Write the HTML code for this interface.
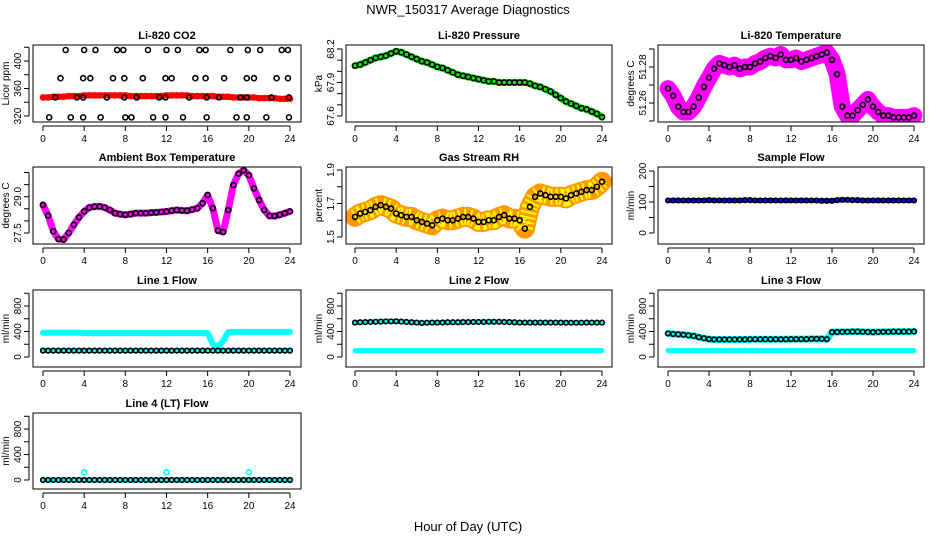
<!DOCTYPE html>
<html><head><meta charset="utf-8"><style>
body{margin:0;background:#fff;}
svg{display:block;font-family:"Liberation Sans",sans-serif;}
</style></head><body>
<svg id="c" width="936" height="540" viewBox="0 0 936 540">
<text x="468" y="14" text-anchor="middle" font-size="13">NWR_150317  Average Diagnostics</text>
<text x="468" y="531" text-anchor="middle" font-size="13">Hour of Day (UTC)</text>
</svg>
<script>
const H=[0,0.5,1,1.5,2,2.5,3,3.5,4,4.5,5,5.5,6,6.5,7,7.5,8,8.5,9,9.5,10,10.5,11,11.5,12,12.5,13,13.5,14,14.5,15,15.5,16,16.5,17,17.5,18,18.5,19,19.5,20,20.5,21,21.5,22,22.5,23,23.5,24];
const xTicks=[0,4,8,12,16,20,24];
// CO2
const co2Band=[347,347,348,348,348,349,349,349,350,350,350,350,350,350,350,350,350,349,349,349,349,349,349,349,350,350,350,350,350,349,349,349,349,349,348,348,348,347,347,347,347,347,346,346,346,346,345,345,345];
const co2PtHours=[2.2,4.0,5.1,7.2,7.8,10.2,12.0,13.1,15.2,15.8,18.2,19.9,21.1,23.2,23.8, 1.7,3.9,4.6,6.8,7.9,9.7,11.9,12.5,14.8,15.8,17.6,19.8,20.5,22.7,23.8, 1.2,3.3,3.9,6.2,7.9,9.1,11.3,11.9,14.2,15.9,17.1,19.2,19.8,22.2,23.9, 0.6,2.7,3.9,5.6,8.0,8.6,10.7,11.9,13.6,15.9,18.8,19.8,21.7,23.9];
const co2PtValues=[416,416,416,416,416,416,416,416,416,416,416,416,416,416,416, 375,375,375,375,375,375,375,375,375,375,375,375,375,375,375, 347,347,347,347,347,347,347,347,347,347,347,347,347,347,347, 318,318,318,318,318,318,318,318,318,318,318,318,318,318];
// Pressure
const presBand=[68.05,68.06,68.08,68.10,68.12,68.13,68.14,68.16,68.18,68.17,68.15,68.13,68.11,68.09,68.08,68.06,68.04,68.03,68.01,67.99,67.97,67.96,67.95,67.94,67.93,67.92,67.91,67.91,67.90,67.90,67.90,67.90,67.90,67.90,67.89,67.87,67.86,67.84,67.82,67.79,67.76,67.73,67.71,67.69,67.67,67.66,67.64,67.62,67.59];
// Li-820 temperature
const tempBand=[51.268,51.264,51.258,51.255,51.255,51.258,51.263,51.269,51.274,51.279,51.282,51.281,51.280,51.281,51.279,51.280,51.280,51.282,51.283,51.285,51.286,51.285,51.287,51.284,51.284,51.285,51.283,51.284,51.285,51.286,51.287,51.288,51.284,51.276,51.258,51.253,51.253,51.256,51.259,51.262,51.258,51.255,51.253,51.253,51.252,51.252,51.252,51.252,51.253];
// Ambient
const ambBand=[28.66,28.22,27.57,27.25,27.23,27.5,27.84,28.15,28.39,28.55,28.59,28.6,28.55,28.45,28.32,28.28,28.25,28.28,28.32,28.32,28.32,28.34,28.35,28.37,28.39,28.42,28.45,28.43,28.42,28.47,28.52,28.73,29.07,28.52,27.6,27.54,28.45,29.48,29.95,30.09,29.89,29.34,28.86,28.45,28.21,28.2,28.25,28.32,28.39];
// RH
const rhBand=[1.62,1.64,1.65,1.66,1.68,1.69,1.68,1.67,1.64,1.63,1.62,1.62,1.60,1.59,1.58,1.57,1.60,1.61,1.60,1.60,1.61,1.62,1.62,1.61,1.59,1.59,1.60,1.60,1.62,1.63,1.61,1.61,1.60,1.55,1.68,1.74,1.76,1.75,1.74,1.74,1.74,1.73,1.75,1.76,1.77,1.78,1.78,1.80,1.83];
// Sample flow
const sampleBand=[105,105,105,105,105,105,105,105,106,105,105,105,105,105,105,106,106,105,105,105,105,105,105,105,105,105,105,105,105,105,104,104,104,106,107,107,106,106,105,105,105,105,105,105,105,105,105,105,105];
// Line 1
const l1Cyan=[380,380,380,380,380,380,380,380,375,375,375,375,375,375,375,375,375,375,375,375,375,375,375,375,375,375,375,375,375,375,375,375,375,200,160,250,390,395,395,395,395,395,395,395,395,395,395,395,395];
const l1Black=[100,100,100,100,100,100,100,100,100,100,100,100,100,100,100,100,100,100,100,100,100,100,100,100,100,100,100,100,100,100,100,100,100,100,100,100,100,100,100,100,100,100,100,100,100,100,100,100,100];
// Line 2
const l2Black=[540,545,548,550,552,555,558,558,560,555,550,545,540,535,538,540,540,542,545,545,545,548,548,550,550,550,552,552,552,550,548,545,540,540,540,540,540,540,540,540,540,538,538,538,538,540,540,540,540];
const l2Cyan=[100,100,100,100,100,100,100,100,100,100,100,100,100,100,100,100,100,100,100,100,100,100,100,100,100,100,100,100,100,100,100,100,100,100,100,100,100,100,100,100,100,100,100,100,100,100,100,100,100];
// Line 3
const l3Black=[370,360,355,350,340,330,310,295,280,275,275,275,275,275,275,275,278,278,278,278,278,278,278,278,280,280,280,280,285,285,285,280,390,392,395,395,398,398,395,392,390,392,395,395,398,398,398,398,400];
const l3Cyan=[100,100,100,100,100,100,100,100,100,100,100,100,100,100,100,100,100,100,100,100,100,100,100,100,100,100,100,100,100,100,100,100,100,100,100,100,100,100,100,100,100,100,100,100,100,100,100,100,100];
// Line 4
const l4Black=[0,0,0,0,0,0,0,0,0,0,0,0,0,0,0,0,0,0,0,0,0,0,0,0,0,0,0,0,0,0,0,0,0,0,0,0,0,0,0,0,0,0,0,0,0,0,0,0,0];
const l4OutHours=[4,12,20];
const l4OutValues=[120,120,120];

const NS="http://www.w3.org/2000/svg";
const svg=document.getElementById('c');
function mk(tag,attrs,parent){const e=document.createElementNS(NS,tag);for(const k in attrs)e.setAttribute(k,attrs[k]);(parent||svg).appendChild(e);return e;}

const cols=[{bl:33,br:301,x0:43,x24:290},{bl:346,br:612,x0:355,x24:602},{bl:658,br:924,x0:668,x24:914}];
const rows=[{t:45,b:122},{t:167,b:244},{t:290,b:367},{t:413,b:489}];

function panel(name,title,ylab,ci,ri,v1,y1,v2,y2,ticks,labels,draw){
  const c=cols[ci],r=rows[ri];
  const g=mk('g',{});
  
  
  const X=h=>c.x0+h*(c.x24-c.x0)/24;
  const Y=v=>y1+(v-v1)*(y2-y1)/(v2-v1);
  const clip=mk('clipPath',{id:'cl'+name},g);
  mk('rect',{x:c.bl,y:r.t,width:c.br-c.bl,height:r.b-r.t},clip);
  const dg=mk('g',{'clip-path':'url(#cl'+name+')'},g);
  draw(dg,X,Y);
  const box=mk('rect',{x:c.bl,y:r.t,width:c.br-c.bl,height:r.b-r.t,fill:'none',stroke:'#000','stroke-width':1},g);
  
  
  const tt=mk('text',{x:(c.bl+c.br)/2,y:r.t-6,'text-anchor':'middle','font-size':11,'font-weight':'bold'},g);
  tt.textContent=title;
  
  
  mk('line',{x1:X(0),x2:X(24),y1:r.b+4,y2:r.b+4,stroke:'#000'},g);
  xTicks.forEach(h=>{
    mk('line',{x1:X(h),x2:X(h),y1:r.b+4,y2:r.b+9,stroke:'#000'},g);
    const t=mk('text',{x:X(h),y:r.b+20,'text-anchor':'middle','font-size':10},g);
    t.textContent=h;
    
    
  });
  const ax=c.bl-4;
  mk('line',{x1:ax,x2:ax,y1:Y(ticks[0]),y2:Y(ticks[ticks.length-1]),stroke:'#000'},g);
  ticks.forEach((v,i)=>{
    mk('line',{x1:ax-5,x2:ax,y1:Y(v),y2:Y(v),stroke:'#000'},g);
    if(labels[i]!==''){
      const t=mk('text',{x:0,y:0,'text-anchor':'middle','font-size':10,transform:`translate(${ax-8},${Y(v)}) rotate(-90)`},g);
      t.textContent=labels[i];
      
      
    }
  });
  const yl=mk('text',{x:0,y:0,'text-anchor':'middle','font-size':10,transform:`translate(${c.bl-24},${(r.t+r.b)/2}) rotate(-90)`},g);
  yl.textContent=ylab;
  
  
}
function band(g,X,Y,hs,vs,color,w,nm){
  const p=mk('polyline',{points:hs.map((h,i)=>X(h)+','+Y(vs[i])).join(' '),fill:'none',stroke:color,'stroke-width':w,'stroke-linejoin':'round','stroke-linecap':'round'},g);
  
  
}
function pts(g,X,Y,hs,vs,color,r,nm){
  hs.forEach((h,i)=>{
    const c=mk('circle',{cx:X(h),cy:Y(vs[i]),r:r,fill:'none',stroke:color,'stroke-width':1.6},g);
    
    
  });
}
const flowT=[0,200,400,600,800,1000],flowL=['0','','400','','800',''];

panel('co2-panel','Li-820 CO2','Licor ppm',0,0,320,116,400,61,[320,340,360,380,400,420],['320','','360','','400',''],(g,X,Y)=>{
  band(g,X,Y,H,co2Band,'#f00',6,'co2-band');pts(g,X,Y,H,co2Band,'#f00',2.5,'co2-point');
  pts(g,X,Y,co2PtHours,co2PtValues,'#000',2.5,'co2-avg-point');});
panel('pressure-panel','Li-820 Pressure','kPa',1,0,67.6,116,68.2,49,[67.6,67.7,67.8,67.9,68.0,68.1,68.2],['67.6','','','67.9','','','68.2'],(g,X,Y)=>{
  band(g,X,Y,H,presBand,'#0e0',7,'pressure-band');pts(g,X,Y,H,presBand,'#000',2.5,'pressure-point');});
panel('temp-panel','Li-820 Temperature','degrees C',2,0,51.26,103,51.28,67,[51.25,51.26,51.27,51.28,51.29],['','51.26','','51.28',''],(g,X,Y)=>{
  band(g,X,Y,H,tempBand,'#f0f',17,'temp-band');pts(g,X,Y,H,tempBand,'#000',2.5,'temp-point');});
panel('ambient-panel','Ambient Box Temperature','degrees C',0,1,27.5,233,29.0,196.7,[27.5,28.0,28.5,29.0,29.5,30.0],['27.5','','','29.0','',''],(g,X,Y)=>{
  band(g,X,Y,H,ambBand,'#f0f',7,'ambient-band');pts(g,X,Y,H,ambBand,'#000',2.5,'ambient-point');});
panel('rh-panel','Gas Stream RH','percent',1,1,1.5,237,1.9,170,[1.5,1.6,1.7,1.8,1.9],['1.5','','1.7','','1.9'],(g,X,Y)=>{
  band(g,X,Y,H,rhBand,'#f90',20,'rh-band');
  const p=mk('polyline',{points:H.map((h,i)=>X(h)+','+Y(rhBand[i])).join(' '),fill:'none',stroke:'#ff0','stroke-width':16,'stroke-dasharray':'2 3','stroke-linejoin':'round'},g);
  
  
  pts(g,X,Y,H,rhBand,'#000',2.5,'rh-point');});
panel('sample-flow-panel','Sample Flow','ml/min',2,1,0,233,200,171,[0,50,100,150,200],['0','','100','','200'],(g,X,Y)=>{
  band(g,X,Y,H,sampleBand,'#00f',5,'sample-band');pts(g,X,Y,H,sampleBand,'#000',2.3,'sample-point');});
panel('line1-panel','Line 1 Flow','ml/min',0,2,0,357,800,306,flowT,flowL,(g,X,Y)=>{
  band(g,X,Y,H,l1Cyan,'#0ff',6,'line1-band');band(g,X,Y,H,l1Black,'#0ff',5,'line1-low-band');pts(g,X,Y,H,l1Black,'#000',2.3,'line1-point');});
panel('line2-panel','Line 2 Flow','ml/min',1,2,0,357,800,306,flowT,flowL,(g,X,Y)=>{
  band(g,X,Y,H,l2Cyan,'#0ff',5,'line2-low-band');band(g,X,Y,H,l2Black,'#0ff',5,'line2-band');pts(g,X,Y,H,l2Black,'#000',2.3,'line2-point');});
panel('line3-panel','Line 3 Flow','ml/min',2,2,0,357,800,306,flowT,flowL,(g,X,Y)=>{
  band(g,X,Y,H,l3Cyan,'#0ff',5,'line3-low-band');band(g,X,Y,H,l3Black,'#0ff',7,'line3-band');pts(g,X,Y,H,l3Black,'#000',2.3,'line3-point');});
panel('line4-panel','Line 4 (LT) Flow','ml/min',0,3,0,480,800,429,flowT,flowL,(g,X,Y)=>{
  band(g,X,Y,H,l4Black,'#0ff',5,'line4-band');pts(g,X,Y,l4OutHours,l4OutValues,'#0ff',2.5,'line4-outlier');pts(g,X,Y,H,l4Black,'#000',2.3,'line4-point');});
</script>
</body></html>
